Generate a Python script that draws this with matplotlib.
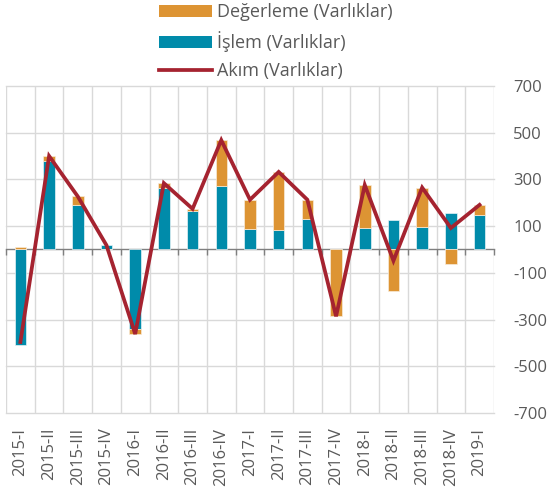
import numpy as np
import matplotlib
matplotlib.use('Agg')
import matplotlib.pyplot as plt
from matplotlib.patches import Patch
from matplotlib.lines import Line2D
import matplotlib.transforms as mtransforms

plt.rcParams['font.family'] = ['Open Sans', 'DejaVu Sans']
plt.rcParams['axes.unicode_minus'] = False

# quarterly data
quarters = ['2015-I', '2015-II', '2015-III', '2015-IV',
            '2016-I', '2016-II', '2016-III', '2016-IV',
            '2017-I', '2017-II', '2017-III', '2017-IV',
            '2018-I', '2018-II', '2018-III', '2018-IV', '2019-I']
islem = [-408, 380, 191, 18, -340, 262, 163, 272, 89, 85, 130, 3, 92, 128, 95, 156, 146]
degerleme = [12, 20, 36, 0, -22, 22, 11, 196, 124, 247, 80, -284, 184, -176, 167, -64, 43]
akim = [-396, 400, 227, 18, -362, 284, 174, 468, 213, 332, 213, -286, 276, -48, 265, 92, 191]
yticks = [-700, -500, -300, -100, 100, 300, 500, 700]

ORANGE = '#DD9433'
TEAL = '#008BAA'
RED = '#A52330'
GREY = '#595959'
GRID = '#D9D9D9'

fig = plt.figure(figsize=(5.5, 4.97), dpi=100)
ax = fig.add_axes([0.011, 0.169, 0.887, 0.658])

x = np.arange(len(quarters))
islem = np.array(islem)
degerleme = np.array(degerleme)
# excel-style stacking: same sign stacks on top of İşlem, opposite sign starts at zero
bottom = np.where(np.sign(degerleme) == np.sign(islem), islem, 0)

ax.bar(x, islem, width=0.4, color=TEAL, edgecolor='#E6F3F6', linewidth=0.5, zorder=3)
ax.bar(x, degerleme, width=0.4, bottom=bottom, color=ORANGE, edgecolor='#F8EBDA', linewidth=0.5, zorder=3)
ax.plot(x, akim, color=RED, linewidth=2.7, solid_joinstyle='miter', zorder=4)

ax.set_xlim(-0.5, len(quarters) - 0.5)
ax.set_ylim(-700, 700)

# grid: horizontal at y ticks, vertical at category boundaries
ax.set_yticks(yticks)
ax.set_xticks(np.arange(-0.5, len(quarters)), [''] * (len(quarters) + 1))
ax.grid(True, color=GRID, linewidth=1.0, zorder=0)
for gl in ax.get_xgridlines() + ax.get_ygridlines():
    gl.set_clip_on(False)

ax.yaxis.tick_right()
ax.tick_params(axis='y', length=0, pad=14, labelsize=12, labelcolor=GREY)
for lab in ax.get_yticklabels():
    lab.set_horizontalalignment('left')

for side in ['left', 'right', 'top']:
    ax.spines[side].set_visible(False)
ax.spines['bottom'].set_position(('data', 0))
ax.spines['bottom'].set_color('#7F7F7F')
ax.spines['bottom'].set_linewidth(1.0)
ax.tick_params(axis='x', length=4, width=1, color='#7F7F7F', direction='out')

# category labels below plot area
trans = mtransforms.blended_transform_factory(ax.transData, ax.transAxes)
for xi, q in zip(x, quarters):
    ax.text(xi, -0.045, q, transform=trans, rotation=90, ha='center', va='top',
            fontsize=12, color=GREY)

handles = [Patch(facecolor=ORANGE, edgecolor='none'),
           Patch(facecolor=TEAL, edgecolor='none'),
           Line2D([0], [0], color=RED, linewidth=2.7)]
labels = ['Değerleme (Varlıklar)', 'İşlem (Varlıklar)', 'Akım (Varlıklar)']
fig.legend(handles, labels, loc='upper center', bbox_to_anchor=(0.502, 0.995),
           frameon=False, fontsize=13, labelcolor=GREY, handlelength=2.9,
           handletextpad=0.3, labelspacing=0.55, borderpad=0.05, borderaxespad=0)

fig.savefig('out.png', dpi=100)
